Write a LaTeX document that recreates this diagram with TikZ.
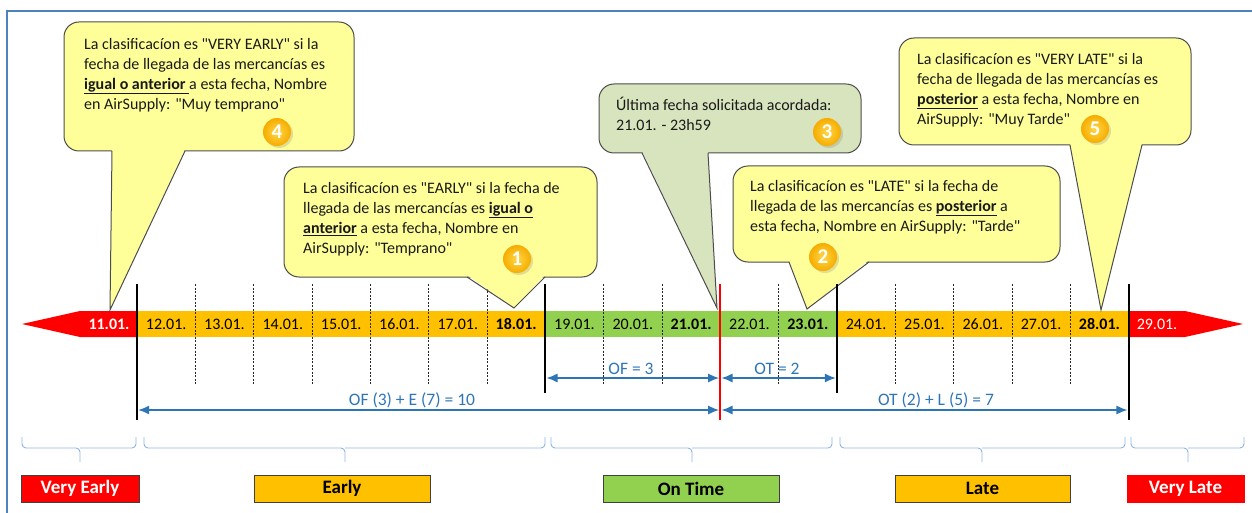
\documentclass[tikz,border=0pt]{standalone}
\usepackage{fontspec}
\setmainfont{Carlito}[Ligatures=TeXOff]
\usetikzlibrary{arrows.meta,shadows}

\definecolor{vred}{RGB}{255,0,0}
\definecolor{org}{RGB}{255,192,0}
\definecolor{grn}{RGB}{146,208,80}
\definecolor{callyel}{RGB}{255,255,153}
\definecolor{callgrn}{RGB}{215,228,189}
\definecolor{frameblue}{RGB}{79,129,189}
\definecolor{arrblue}{RGB}{46,117,182}
\definecolor{brcblue}{RGB}{141,180,226}

\begin{document}
\begin{tikzpicture}[x=1pt, y=-1pt]
        \useasboundingbox (0,0) rectangle (1252,513);
        \draw[frameblue, line width=1.5pt] (7,513) -- (7,11) -- (1252,11);

        % timeline bar
        \tikzstyle{cell}=[minimum width=58.33pt, minimum height=26pt, inner sep=0pt, font=\fontsize{16}{18}\selectfont]
        \tikzstyle{cellb}=[cell, font=\fontsize{16}{18}\selectfont\bfseries]
        \fill[vred] (137,311) -- (80,311) -- (22,324) -- (80,337) -- (137,337) -- cycle;
        \fill[vred] (1128.6,311) -- (1185,311) -- (1243,324) -- (1185,337) -- (1128.6,337) -- cycle;
        \node[cellb, text=white] (d11) at (109,324) {11.01.};
        \node[cell, text=white] (d29) at (1157,324) {29.01.};
        \foreach \i/\d/\c/\s in {0/12/org/cell, 1/13/org/cell, 2/14/org/cell, 3/15/org/cell,
            4/16/org/cell, 5/17/org/cell, 6/18/org/cellb, 7/19/grn/cell, 8/20/grn/cell,
            9/21/grn/cellb, 10/22/grn/cell, 11/23/grn/cellb, 12/24/org/cell, 13/25/org/cell,
            14/26/org/cell, 15/27/org/cell, 16/28/org/cellb}
          \node[\s, fill=\c] (d\d) at ({137+58.33*(\i+0.5)},324) {\d.01.};

        \tikzstyle{dsh}=[black!85, line width=0.6pt, dash pattern=on 2pt off 1.5pt]
        \foreach \k in {1,...,6,8,9,11,13,14,15,16}
          \draw[dsh] ({137+58.33*\k},284) -- ({137+58.33*\k},385);

        % callouts
        \tikzstyle{cbox}=[draw=black!70, line width=1pt, rounded corners=15pt, inner sep=0pt]
        \tikzstyle{cline}=[draw=black!70, line width=1pt, line join=miter]
        \tikzstyle{ctext}=[anchor=north west, align=left, inner sep=0pt, text=black!90, font=\fontsize{16}{20}\selectfont]
        \tikzstyle{num}=[circle, inner sep=0pt, minimum size=28pt, inner color={rgb,255:red,255;green,215;blue,70},
            outer color={rgb,255:red,246;green,172;blue,0}, text=white, font=\fontsize{21}{21}\selectfont\bfseries,
            drop shadow={shadow xshift=2pt, shadow yshift=-2pt, opacity=0.25}]

        \node[cbox, fill=callyel, minimum width=290pt, minimum height=129pt] (box4) at (209,86.5) {};
        \coordinate (t4) at (110,310);
        \fill[callyel] (112,149) -- (t4) -- (185,149) -- cycle;
        \draw[cline] (112,151) -- (t4) -- (185,151);
        \node[ctext] (txt4) at (84,38) {La clasificacíon es "VERY EARLY" si la\\fecha de llegada de las mercancías es\\\underline{\textbf{igual o anterior }}a esta fecha, Nombre\\en AirSupply: "Muy temprano"};

        \node[cbox, fill=callyel, minimum width=313pt, minimum height=110pt] (box1) at (440.5,222) {};
        \coordinate (t1) at (514,308);
        \fill[callyel] (467,275) -- (t1) -- (545,275) -- cycle;
        \draw[cline] (467,277) -- (t1) -- (545,277);
        \node[ctext] (txt1) at (303,182) {La clasificacíon es "EARLY" si la fecha de\\llegada de las mercancías es \underline{\textbf{igual o}}\\\underline{\textbf{anterior}} a esta fecha, Nombre en\\AirSupply: "Temprano"};

        \node[cbox, fill=callgrn, minimum width=262pt, minimum height=69pt] (box3) at (730,118.5) {};
        \coordinate (t3) at (717,308);
        \fill[callgrn] (642,151) -- (t3) -- (708,151) -- cycle;
        \draw[cline] (642,153) -- (t3) -- (708,153);
        \node[ctext] (txt3) at (616,97) {Última fecha solicitada acordada:\\21.01. - 23h59};

        \node[cbox, fill=callyel, minimum width=327pt, minimum height=96pt] (box2) at (896.5,214) {};
        \coordinate (t2) at (807,309);
        \fill[callyel] (789,260) -- (t2) -- (869,260) -- cycle;
        \draw[cline] (789,262) -- (t2) -- (869,262);
        \node[ctext] (txt2) at (750,180) {La clasificacíon es "LATE" si la fecha de\\llegada de las mercancías es \underline{\textbf{posterior}} a\\esta fecha, Nombre en AirSupply: "Tarde"};

        \node[cbox, fill=callyel, minimum width=292pt, minimum height=107pt] (box5) at (1045,91.5) {};
        \coordinate (t5) at (1101,310);
        \fill[callyel] (1070,143) -- (t5) -- (1142,143) -- cycle;
        \draw[cline] (1070,145) -- (t5) -- (1142,145);
        \node[ctext] (txt5) at (917,53) {La clasificacíon es "VERY LATE" si la\\fecha de llegada de las mercancías es\\\underline{\textbf{posterior}} a esta fecha, Nombre en\\AirSupply: "Muy Tarde"};

        \node[num] (n4) at (277,132) {4};
        \node[num] (n1) at (517,259) {1};
        \node[num] (n3) at (827,132) {3};
        \node[num] (n2) at (823,257) {2};
        \node[num] (n5) at (1095,129) {5};

        % markers
        \coordinate (mA) at (137,284);
        \coordinate (mB) at (545.3,284);
        \coordinate (mC) at (720.3,284);
        \coordinate (mD) at (837,284);
        \coordinate (mE) at (1128.6,284);
        \coordinate (eA) at (137,420);
        \coordinate (eB) at (545.3,393);
        \coordinate (eC) at (720.3,420);
        \coordinate (eD) at (837,393);
        \coordinate (eE) at (1128.6,420);
        \draw[line width=2.2pt] (mA) -- (eA);
        \draw[line width=2.2pt] (mB) -- (eB);
        \draw[line width=2.2pt] (mD) -- (eD);
        \draw[line width=2.2pt] (mE) -- (eE);
        \draw[vred, line width=2.2pt] (mC) -- (eC);

        % spans
        \tikzstyle{dim}=[{Latex[length=11pt,width=9pt]}-{Latex[length=11pt,width=9pt]}, arrblue, line width=1.3pt, shorten <=1.2pt, shorten >=1.2pt]
        \tikzstyle{dimlab}=[text=arrblue, inner sep=1pt, font=\fontsize{17.5}{18}\selectfont]
        \coordinate (aB) at (545.3,378);
        \coordinate (aC) at (720.3,378);
        \coordinate (aD) at (837,378);
        \coordinate (bA) at (137,410);
        \coordinate (bC) at (720.3,410);
        \coordinate (bE) at (1128.6,410);
        \draw[dim] (aB) -- (aC);
        \draw[dim] (aC) -- (aD);
        \draw[dim] (bA) -- (bC);
        \draw[dim] (bC) -- (bE);
        \node[dimlab] (lOF) at (631,369) {OF = 3};
        \node[dimlab] (lOT) at (777,369) {OT = 2};
        \node[dimlab] (lE) at (412,400) {OF (3) + E (7) = 10};
        \node[dimlab] (lL) at (936,400) {OT (2) + L (5) = 7};

        % braces
        \tikzstyle{brc}=[brcblue, line width=0.9pt, rounded corners=4pt]
        \foreach \a/\b/\m in {22/136/80, 144/545/345, 551/832/692, 840/1125/982, 1131/1244/1188} {
          \draw[brc] (\a,437) |- (\m,448) -- (\m,462);
          \draw[brc] (\b,437) |- (\m,448);
        }

        % classes
        \tikzstyle{lab}=[draw=black!75, line width=0.8pt, minimum height=27pt, inner sep=0pt, font=\fontsize{19}{20}\selectfont\bfseries]
        \node[lab, fill=vred, text=white, minimum width=118pt] (cVE) at (80,488.5) {Very Early};
        \node[lab, fill=org, minimum width=176pt] (cE) at (342,488.5) {Early};
        \node[lab, fill=grn, minimum width=176pt] (cOT) at (691,488.5) {On Time};
        \node[lab, fill=org, minimum width=175pt] (cL) at (982.5,488.5) {Late};
        \node[lab, draw=vred, fill=vred, text=white, minimum width=117pt] (cVL) at (1185.5,488.5) {Very Late};
\end{tikzpicture}
\end{document}
